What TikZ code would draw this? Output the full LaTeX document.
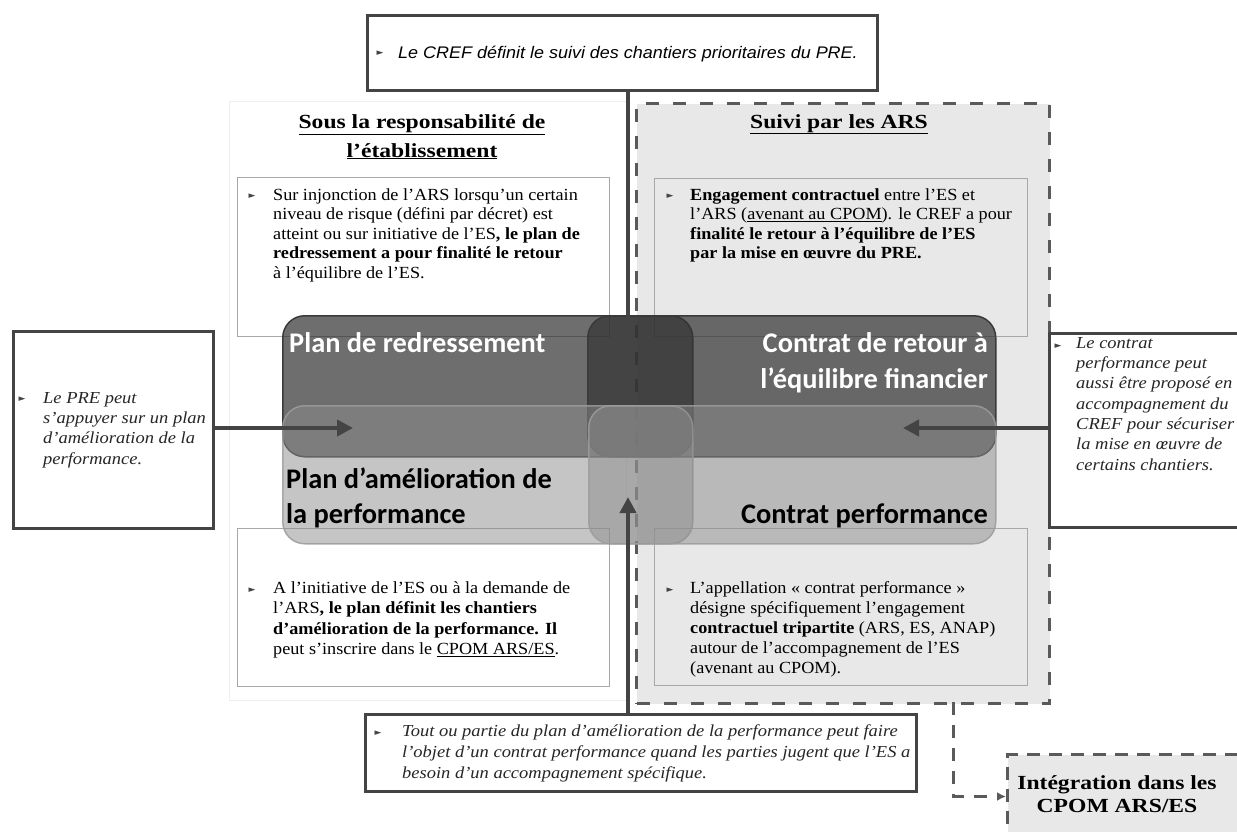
\documentclass[tikz,border=0pt]{standalone}
\usepackage{fontspec}
\setmainfont{Liberation Serif}
\newfontfamily\bodyserif[FakeStretch=1.07]{Liberation Serif}
\newfontfamily\itserif[FakeStretch=1.1]{Liberation Serif}
\newfontfamily\headserif[FakeStretch=1.18]{Liberation Serif}
\newfontfamily\sansf[FakeStretch=1.07]{Liberation Sans}
\newfontfamily\calib{Carlito}
\newfontfamily\symf{DejaVu Sans}
\usetikzlibrary{arrows.meta}
\definecolor{linecol}{HTML}{444444}
\definecolor{panelcol}{HTML}{E8E8E8}
\definecolor{dashcol}{HTML}{5A5A5A}
\definecolor{boxcol}{HTML}{A8A8A8}
\definecolor{darkcol}{HTML}{333333}
\definecolor{darkedge}{HTML}{3A3A3A}
\definecolor{lightcol}{HTML}{8C8C8C}
\definecolor{lightedge}{HTML}{9C9C9C}
\definecolor{bulletcol}{HTML}{444444}
\definecolor{faintcol}{HTML}{EEEEEE}
\newcommand{\mybullet}{{\symf\fontsize{9}{9}\selectfont ►}}
\begin{document}
\begin{tikzpicture}[x=1pt,y=-1pt,
  thickline/.style={draw=linecol, line width=4pt},
  bigarrow/.style={thickline, -{Triangle[length=16pt,width=16pt]}},
  textbox/.style={draw=boxcol, line width=1.3pt, anchor=north west, inner sep=0pt},
  calloutbox/.style={draw=linecol, line width=3pt, fill=white, anchor=north west, inner sep=0pt},
  dashborder/.style={draw=dashcol, line width=3pt, dash pattern=on 13pt off 14pt},
  dashconn/.style={draw=dashcol, line width=3pt, dash pattern=on 13pt off 10pt, -{Latex[length=9pt,width=9pt]}},
  darkshape/.style={fill=darkcol, fill opacity=0.71, draw=darkedge, line width=1.5pt, rounded corners=22pt, anchor=north west, inner sep=0pt},
  lightshape/.style={fill=lightcol, fill opacity=0.5, draw=lightedge, draw opacity=0.85, line width=1.5pt, rounded corners=22pt, anchor=north west, inner sep=0pt},
  bodytext/.style={inner sep=0pt, anchor=north west, align=left, font=\bodyserif\fontsize{17}{19.5}\selectfont},
  ittext/.style={inner sep=0pt, anchor=north west, align=left, font=\itserif\itshape\fontsize{16.8}{20.3}\selectfont, text=black!85},
  headtext/.style={inner sep=0pt, align=center, font=\headserif\bfseries\fontsize{20}{29}\selectfont},
  bignamew/.style={inner sep=0pt, anchor=base west, font=\calib\bfseries\fontsize{28.4}{30}\selectfont},
  bignamee/.style={inner sep=0pt, anchor=base east, font=\calib\bfseries\fontsize{28.4}{30}\selectfont},
  bulletnode/.style={inner sep=0pt, text=bulletcol}
]
\useasboundingbox (0,0) rectangle (1237,831);
\fill[white] (0,0) rectangle (1237,831);

% panels
\node[draw=faintcol, line width=1pt, anchor=north west, inner sep=0pt, minimum width=397pt, minimum height=599pt] (leftpanel) at (229,101) {};
\node[fill=panelcol, dashborder, anchor=north west, inner sep=0pt, minimum width=413pt, minimum height=600pt] (rightpanel) at (635,102) {};

% headings
\node[headtext, anchor=north] (head1) at (422,114) {\underline{Sous la responsabilité de}\\\underline{l’établissement}};
\node[headtext, anchor=base] (head2) at (839,128) {\underline{Suivi par les ARS}};

% text boxes
\node[textbox, fill=white, minimum width=372pt, minimum height=159pt] (tlbox) at (237,177) {};
\node[textbox, minimum width=373pt, minimum height=158pt] (trbox) at (654,178) {};
\node[textbox, fill=white, minimum width=372pt, minimum height=158pt] (blbox) at (237,528) {};
\node[textbox, minimum width=373pt, minimum height=157pt] (brbox) at (654,528) {};

\node[bulletnode] (btl) at (252,196) {\mybullet};
\node[bodytext] (tltext) at (273,188) {Sur injonction de l’ARS lorsqu’un certain\\niveau de risque (défini par décret) est\\atteint ou sur initiative de l’ES\textbf{, le plan de}\\\textbf{redressement a pour finalité le retour}\\à l’équilibre de l’ES.};

\node[bulletnode] (btr) at (670,196) {\mybullet};
\node[bodytext] (trtext) at (690,188) {\textbf{Engagement contractuel} entre l’ES et\\l’ARS (\underline{avenant au CPOM}). le CREF a pour\\\textbf{finalité le retour à l’équilibre de l’ES}\\\textbf{par la mise en œuvre du PRE.}};

\node[bulletnode] (bbl) at (252,590) {\mybullet};
\node[bodytext, font=\bodyserif\fontsize{17}{20.5}\selectfont] (bltext) at (273,581) {A l’initiative de l’ES ou à la demande de\\l’ARS\textbf{, le plan définit les chantiers}\\\textbf{d’amélioration de la performance. Il}\\peut s’inscrire dans le \underline{CPOM ARS/ES}.};

\node[bulletnode] (bbr) at (670,590) {\mybullet};
\node[bodytext, font=\bodyserif\fontsize{17}{20}\selectfont] (brtext) at (690,581) {L’appellation « contrat performance »\\désigne spécifiquement l’engagement\\\textbf{contractuel tripartite} (ARS, ES, ANAP)\\autour de l’accompagnement de l’ES\\(avenant au CPOM).};

% central shapes
\node[darkshape, minimum width=410pt, minimum height=141pt] (prshape) at (282,315) {};
\node[darkshape, minimum width=408pt, minimum height=141pt] (crefshape) at (587,315) {};
\node[lightshape, minimum width=410pt, minimum height=138pt] (pashape) at (282,405) {};
\node[lightshape, minimum width=407pt, minimum height=138pt] (cpshape) at (588,405) {};

\node[bignamew, text=white] (prlabel) at (289,352) {Plan de redressement};
\node[bignamee, text=white] (creflabela) at (988,352) {Contrat de retour à};
\node[bignamee, text=white] (creflabelb) at (988,388) {l’équilibre financier};
\node[bignamew] (palabela) at (286,488) {Plan d’amélioration de};
\node[bignamew] (palabelb) at (286,523) {la performance};
\node[bignamee] (cplabel) at (988,523) {Contrat performance};

% callout boxes
\node[calloutbox, minimum width=510pt, minimum height=75pt] (topbox) at (366,14) {};
\node[bulletnode] (btop) at (380,53) {\mybullet};
\node[inner sep=0pt, anchor=west, font=\sansf\itshape\fontsize{16.8}{18}\selectfont] (toptext) at (398,54) {Le CREF définit le suivi des chantiers prioritaires du PRE.};

\node[calloutbox, minimum width=200pt, minimum height=197pt] (leftbox) at (12,330) {};
\node[bulletnode] (bleft) at (22,399) {\mybullet};
\node[ittext] (lefttext) at (43,392) {Le PRE peut\\s’appuyer sur un plan\\d’amélioration de la\\performance.};

\node[calloutbox, minimum width=212pt, minimum height=194pt] (rightbox) at (1048,332) {};
\node[bulletnode] (bright) at (1058,346) {\mybullet};
\node[ittext] (righttext) at (1076,337) {Le contrat\\performance peut\\aussi être proposé en\\accompagnement du\\CREF pour sécuriser\\la mise en œuvre de\\certains chantiers.};

\node[calloutbox, minimum width=551pt, minimum height=77pt] (botbox) at (364,713) {};
\node[bulletnode] (bbot) at (378,733) {\mybullet};
\node[ittext, font=\itserif\itshape\fontsize{16.8}{21}\selectfont] (bottext) at (402,724) {Tout ou partie du plan d’amélioration de la performance peut faire\\l’objet d’un contrat performance quand les parties jugent que l’ES a\\besoin d’un accompagnement spécifique.};

\node[fill=panelcol, dashborder, dash pattern=on 13pt off 9pt, anchor=north west, inner sep=0pt, minimum width=260pt, minimum height=84pt] (integ) at (1006,753) {};
\node[headtext, anchor=north, font=\headserif\bfseries\fontsize{20}{23}\selectfont] (integtext) at (1117,775) {Intégration dans les\\CPOM ARS/ES};

% connectors
\coordinate (downtip) at (628,363);
\coordinate (uptip) at (628,497);
\coordinate (lefttip) at (353,428);
\coordinate (righttip) at (903,428);
\coordinate (dashstart) at (953,702);

\draw[bigarrow] (topbox.south -| downtip) -- (downtip);
\draw[bigarrow] (botbox.north -| uptip) -- (uptip);
\draw[bigarrow] (leftbox.east |- lefttip) -- (lefttip);
\draw[bigarrow] (rightbox.west |- righttip) -- (righttip);
\draw[dashconn] (dashstart) |- (integ.west);
\end{tikzpicture}
\end{document}
